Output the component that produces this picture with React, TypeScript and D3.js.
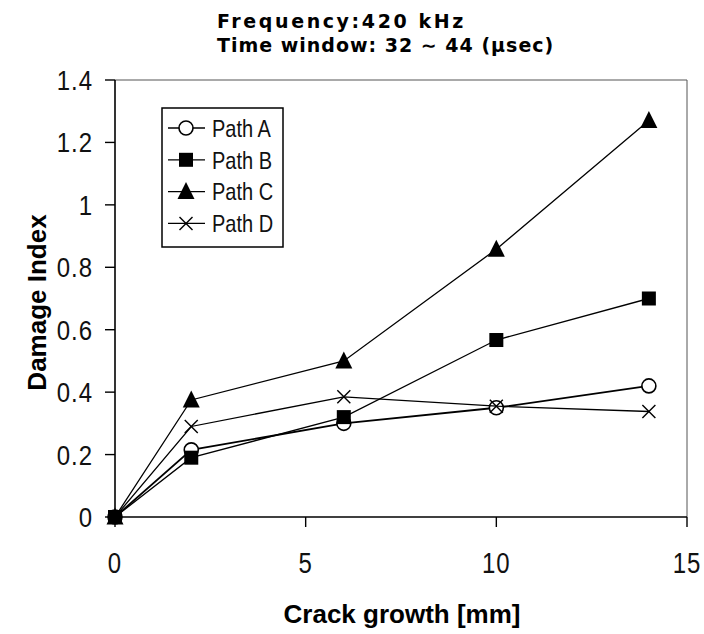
import React from "react";
import * as d3 from "d3";

// Crack growth positions [mm]
const crackGrowth = [0, 2, 6, 10, 14];

// Damage index values for each sensing path
const pathA = [0, 0.215, 0.3, 0.35, 0.42];
const pathB = [0, 0.19, 0.32, 0.567, 0.7];
const pathC = [0, 0.375, 0.5, 0.858, 1.27];
const pathD = [0, 0.29, 0.385, 0.355, 0.338];

const seriesNames = ["Path A", "Path B", "Path C", "Path D"];
const seriesValues = [pathA, pathB, pathC, pathD];
const seriesMarkers = ["circle", "square", "triangle", "cross"];

const xTicks = [0, 5, 10, 15];
const yTicks = [0, 0.2, 0.4, 0.6, 0.8, 1, 1.2, 1.4];

const titleLines = ["Frequency:420 kHz", "Time window: 32 \u223C 44 (\u03BCsec)"];
const titleSpacing = [2.6, 1];

const W = 704;
const H = 634;
const M = { left: 115, right: 687, top: 80, bottom: 517 };

const x = d3.scaleLinear().domain([0, 15]).range([M.left, M.right]);
const y = d3.scaleLinear().domain([0, 1.4]).range([M.bottom, M.top]);

const tickFont = "'Liberation Sans', Arial, sans-serif";
const boldFont = "'Liberation Sans Narrow', 'Liberation Sans', Arial, sans-serif";

function Marker({ kind, cx, cy }: { kind: string; cx: number; cy: number }) {
  if (kind === "circle") {
    return <circle cx={cx} cy={cy} r={7} fill="#fff" stroke="#000" strokeWidth={1.6} />;
  }
  if (kind === "square") {
    return <rect x={cx - 7} y={cy - 7} width={14} height={14} fill="#000" />;
  }
  if (kind === "triangle") {
    const s = 8.5;
    const pts = [
      [cx, cy - s - 1],
      [cx + s, cy + s - 1],
      [cx - s, cy + s - 1],
    ];
    return <polygon points={pts.map((p) => p.join(",")).join(" ")} fill="#000" />;
  }
  const s = 6.5;
  return (
    <g stroke="#000" strokeWidth={1.4}>
      <line x1={cx - s} y1={cy - s} x2={cx + s} y2={cy + s} />
      <line x1={cx - s} y1={cy + s} x2={cx + s} y2={cy - s} />
    </g>
  );
}

export default function App() {
  const line = d3
    .line<number>()
    .x((_, i) => x(crackGrowth[i]))
    .y((v) => y(v));

  const legendX = 162;
  const legendY = 108;
  const legendW = 121;
  const legendH = 139;
  const legendRow = 31.8;

  return (
    <svg width={W} height={H} style={{ display: "block", position: "absolute", left: 0, top: 0 }}>
      <rect width={W} height={H} fill="#fff" />

      {/* title */}
      {titleLines.map((t, i) => (
        <text
          key={t}
          x={217}
          y={28 + i * 24}
          fontFamily="'DejaVu Sans', Verdana, sans-serif"
          fontWeight="bold"
          fontSize={19}
          letterSpacing={titleSpacing[i]}
          fill="#000"
        >
          {t}
        </text>
      ))}

      {/* frame */}
      <line x1={M.left} x2={M.right} y1={M.top} y2={M.top} stroke="#555" strokeWidth={1} />
      <line x1={M.right} x2={M.right} y1={M.top} y2={M.bottom} stroke="#555" strokeWidth={1} />
      <line x1={M.left} x2={M.left} y1={M.top} y2={M.bottom} stroke="#000" strokeWidth={1.6} />
      <line x1={M.left} x2={M.right} y1={M.bottom} y2={M.bottom} stroke="#000" strokeWidth={1.6} />

      {/* y ticks */}
      {yTicks.map((t) => (
        <g key={t}>
          <line x1={M.left - 10} x2={M.left} y1={y(t)} y2={y(t)} stroke="#000" strokeWidth={1.4} />
          <text
            transform={`translate(${M.left - 22}, ${y(t)}) scale(1, 1.15)`}
            dy="0.36em"
            textAnchor="end"
            fontFamily={tickFont}
            fontSize={24}
            letterSpacing={1}
            fill="#111"
          >
            {d3.format("~g")(t)}
          </text>
        </g>
      ))}

      {/* x ticks */}
      {xTicks.map((t) => (
        <g key={t}>
          <line x1={x(t)} x2={x(t)} y1={M.bottom} y2={M.bottom + 10} stroke="#000" strokeWidth={1.4} />
          <text
            transform={`translate(${x(t)}, 573) scale(1, 1.25)`}
            textAnchor="middle"
            fontFamily={tickFont}
            fontSize={24}
            letterSpacing={1}
            fill="#111"
          >
            {t}
          </text>
        </g>
      ))}

      {/* axis titles */}
      <text
        x={402}
        y={623}
        textAnchor="middle"
        fontFamily={boldFont}
        fontWeight="bold"
        fontSize={26}
        fill="#000"
      >
        Crack growth [mm]
      </text>
      <text
        transform={`translate(46, ${(M.top + M.bottom) / 2 + 4}) rotate(-90)`}
        textAnchor="middle"
        fontFamily={boldFont}
        fontWeight="bold"
        fontSize={26}
        fill="#000"
      >
        Damage Index
      </text>

      {/* series */}
      {seriesValues.map((vals, si) => (
        <g key={seriesNames[si]}>
          <path d={line(vals) || ""} fill="none" stroke="#000" strokeWidth={si === 0 ? 1.8 : 1.3} />
          {vals.map((v, i) => (
            <Marker key={i} kind={seriesMarkers[si]} cx={x(crackGrowth[i])} cy={y(v)} />
          ))}
        </g>
      ))}

      {/* legend */}
      <rect x={legendX} y={legendY} width={legendW} height={legendH} fill="#fff" stroke="#000" strokeWidth={1.5} />
      {seriesNames.map((name, i) => {
        const cy = legendY + 20 + i * legendRow;
        return (
          <g key={name}>
            <line x1={legendX + 6} x2={legendX + 43} y1={cy} y2={cy} stroke="#000" strokeWidth={1.3} />
            <Marker kind={seriesMarkers[i]} cx={legendX + 24} cy={cy} />
            <text
              transform={`translate(${legendX + 50}, ${cy}) scale(1, 1.22)`}
              dy="0.36em"
              fontFamily={tickFont}
              fontSize={20}
              fill="#111"
            >
              {name}
            </text>
          </g>
        );
      })}
    </svg>
  );
}
